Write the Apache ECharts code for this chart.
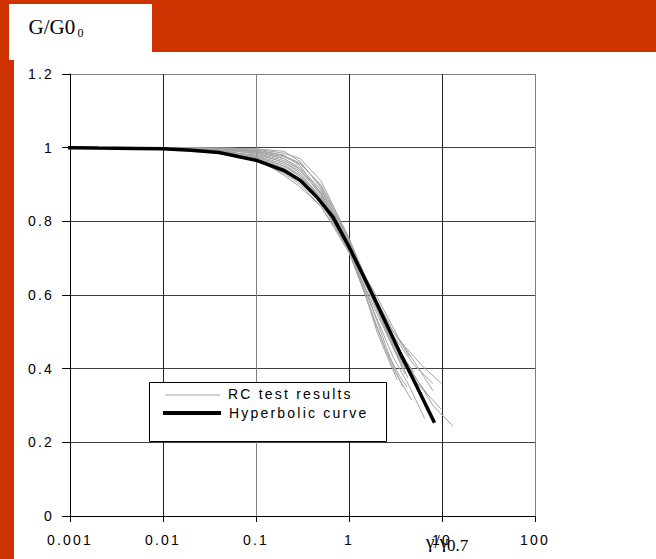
<!DOCTYPE html>
<html><head><meta charset="utf-8">
<script src="https://cdn.jsdelivr.net/npm/echarts@6/dist/echarts.min.js"></script>
<style>
html,body{margin:0;padding:0;background:#fff;}
#c{width:656px;height:559px;}
#c svg text{letter-spacing:2.2px;}
#c svg text[style*="Serif"]{letter-spacing:0;}
</style></head><body><div id="c"></div><script>
// ---- data ----
const xTickLabels = ['0.001', '0.01', '0.1', '1', '10', '100'];
const yTickLabels = ['0', '0.2', '0.4', '0.6', '0.8', '1', '1.2'];
const yTitle = 'G/G0';
const yTitleSub = '0';
const xTitle = 'γ/γ';
const xTitleSub = '0.7';
const legendNames = ['RC test results', 'Hyperbolic curve'];

const hyperX = [0.00072, 0.001, 0.002, 0.005, 0.01, 0.02, 0.04, 0.1, 0.2, 0.3, 0.45, 0.67, 1, 1.8, 2.7, 3.5, 5, 8.3];
const hyperY = [1.0, 1.0, 0.999, 0.998, 0.997, 0.993, 0.987, 0.966, 0.938, 0.911, 0.866, 0.812, 0.731, 0.6, 0.506, 0.445, 0.367, 0.253];

const rc01 = [[0.005,1],[0.01,1],[0.03,0.999],[0.1,0.997],[0.2,0.99],[0.3,0.962],[0.5,0.89],[0.7,0.815],[1,0.74],[1.5,0.645],[2,0.58],[3,0.5],[4,0.46],[6,0.41],[9.8,0.36]];
const rc02 = [[0.005,1],[0.01,1],[0.03,0.998],[0.1,0.994],[0.2,0.98],[0.3,0.95],[0.5,0.875],[0.7,0.805],[1,0.735],[1.5,0.64],[2,0.575],[3,0.48],[4.9,0.387],[8,0.3],[13,0.245]];
const rc03 = [[0.007,1],[0.02,0.999],[0.05,0.996],[0.1,0.99],[0.2,0.97],[0.3,0.94],[0.5,0.87],[0.7,0.8],[1,0.73],[1.5,0.63],[2,0.56],[3,0.465],[5,0.37],[9.8,0.29]];
const rc04 = [[0.005,1],[0.02,0.998],[0.05,0.993],[0.1,0.983],[0.2,0.96],[0.3,0.93],[0.5,0.865],[0.7,0.8],[1,0.725],[1.5,0.6],[2,0.51],[3,0.4],[4.7,0.315]];
const rc05 = [[0.005,1],[0.02,0.997],[0.05,0.99],[0.1,0.975],[0.2,0.95],[0.3,0.92],[0.5,0.86],[0.7,0.795],[1,0.725],[1.5,0.615],[2,0.535],[3,0.43],[4.5,0.35],[6.5,0.265]];
const rc06 = [[0.005,1],[0.02,0.996],[0.05,0.987],[0.1,0.97],[0.2,0.94],[0.3,0.91],[0.5,0.85],[0.7,0.79],[1,0.72],[1.5,0.62],[2,0.55],[3,0.455],[4.5,0.39]];
const rc07 = [[0.005,1],[0.02,0.995],[0.05,0.985],[0.1,0.968],[0.2,0.93],[0.3,0.9],[0.5,0.84],[0.7,0.78],[1,0.715],[1.5,0.6],[2,0.515],[2.5,0.45],[3.5,0.38],[4.2,0.35]];
const rc08 = [[0.01,1],[0.03,0.997],[0.1,0.985],[0.2,0.96],[0.3,0.935],[0.5,0.875],[0.7,0.81],[1,0.745],[1.5,0.65],[2,0.595],[3.5,0.478],[5,0.42],[8,0.34]];
const rc09 = [[0.01,0.999],[0.03,0.995],[0.1,0.978],[0.2,0.95],[0.3,0.925],[0.5,0.865],[0.7,0.805],[1,0.74],[1.5,0.645],[2,0.585],[3,0.5],[4.5,0.433]];
const rc10 = [[0.003,1],[0.01,0.997],[0.03,0.99],[0.1,0.972],[0.2,0.925],[0.3,0.893],[0.5,0.84],[0.7,0.785],[1,0.72],[1.5,0.61],[2,0.53],[2.5,0.46],[3.2,0.39],[3.8,0.35]];
const rc11 = [[0.005,1],[0.02,0.998],[0.1,0.99],[0.2,0.975],[0.3,0.955],[0.5,0.9],[0.7,0.83],[1,0.75],[1.5,0.645],[2,0.57],[3,0.47],[4,0.4]];
const rc12 = [[0.01,1],[0.05,0.999],[0.1,0.996],[0.2,0.985],[0.3,0.97],[0.5,0.91],[0.7,0.835],[1,0.755],[1.5,0.65],[2,0.58],[3,0.48],[5,0.38],[7,0.33]];
const rc13 = [[0.005,1],[0.02,0.997],[0.05,0.99],[0.1,0.973],[0.2,0.945],[0.3,0.915],[0.5,0.855],[0.7,0.795],[1,0.73],[1.5,0.63],[2,0.565],[3,0.47],[5,0.39]];
const rc14 = [[0.005,1],[0.02,0.999],[0.05,0.995],[0.1,0.985],[0.2,0.965],[0.3,0.94],[0.5,0.88],[0.7,0.815],[1,0.74],[1.5,0.635],[2,0.56],[3,0.455],[4,0.385]];
const rc15 = [[0.01,1],[0.05,0.996],[0.1,0.988],[0.2,0.97],[0.3,0.945],[0.5,0.885],[0.7,0.82],[1,0.745],[1.5,0.645],[2,0.575],[3,0.49],[5,0.41],[8,0.36]];
const rc16 = [[0.008,1],[0.03,0.998],[0.1,0.992],[0.2,0.978],[0.3,0.958],[0.5,0.895],[0.7,0.825],[1,0.75],[1.5,0.64],[2,0.565],[3,0.46],[4.3,0.375]];
const rc17 = [[0.006,1],[0.02,0.997],[0.1,0.98],[0.2,0.955],[0.3,0.925],[0.5,0.86],[0.7,0.79],[1,0.72],[1.5,0.6],[2,0.5],[2.6,0.43],[3.3,0.37]];
const rcCurves = [rc01, rc02, rc03, rc04, rc05, rc06, rc07, rc08, rc09, rc10, rc11, rc12, rc13, rc14, rc15, rc16, rc17];

// ---- chart ----
const chart = echarts.init(document.getElementById('c'), null, { renderer: 'svg' });
const RED = '#cc3300';
const SANS = 'Liberation Sans';
const SERIF = 'Liberation Serif';

const series = rcCurves.map(function (c) {
  return {
    name: legendNames[0], type: 'line', data: c, symbol: 'none', smooth: false,
    lineStyle: { color: '#a3a3a3', width: 1 }, z: 2, silent: true
  };
});
series.push({
  name: legendNames[1], type: 'line', symbol: 'none', clip: false,
  data: hyperX.map(function (x, i) { return [x, hyperY[i]]; }),
  lineStyle: { color: '#000', width: 3.5 }, z: 3
});

chart.setOption({
  animation: false,
  backgroundColor: '#fff',
  grid: { left: 70, top: 74, right: 121, bottom: 43, containLabel: false },
  xAxis: {
    type: 'log', logBase: 10, min: 0.001, max: 100,
    axisLine: { show: true, lineStyle: { color: '#000', width: 1 } },
    axisTick: { show: true, inside: false, length: 6, lineStyle: { color: '#000' } },
    minorTick: { show: false },
    axisLabel: {
      margin: 17, fontFamily: SANS, fontSize: 14, color: '#000',
      formatter: function (v) { return xTickLabels[Math.round(Math.log10(v)) + 3]; }
    },
    splitLine: { show: true, lineStyle: { color: ['#000', '#222', '#808080', '#222', '#222', '#808080'], width: 1 } }
  },
  yAxis: {
    type: 'value', min: 0, max: 1.2, interval: 0.2,
    axisLine: { show: true, lineStyle: { color: '#000', width: 1 } },
    axisTick: { show: true, inside: false, length: 8, lineStyle: { color: '#000' } },
    axisLabel: {
      margin: 16, fontFamily: SANS, fontSize: 14, color: '#000',
      formatter: function (v) { return yTickLabels[Math.round(v / 0.2)]; }
    },
    splitLine: { show: true, lineStyle: { color: ['#000', '#404040', '#404040', '#404040', '#404040', '#404040', '#808080'], width: 1 } }
  },
  series: series,
  graphic: [
    { type: 'rect', shape: { x: 0, y: 0, width: 656, height: 52 }, style: { fill: RED }, z: 10 },
    { type: 'rect', shape: { x: 0, y: 0, width: 9, height: 60 }, style: { fill: RED }, z: 10 },
    { type: 'rect', shape: { x: 0, y: 60, width: 14, height: 499 }, style: { fill: RED }, z: 10 },
    { type: 'rect', shape: { x: 9, y: 4, width: 143, height: 48 }, style: { fill: '#fff' }, z: 11 },
    { type: 'text', x: 28.5, y: 37, z: 12, style: { text: yTitle, fontFamily: SERIF, fontSize: 21, fill: '#000', textAlign: 'left', textVerticalAlign: 'bottom' } },
    { type: 'text', x: 77.5, y: 39, z: 12, style: { text: yTitleSub, fontFamily: SERIF, fontSize: 12, fill: '#000', textAlign: 'left', textVerticalAlign: 'bottom' } },
    { type: 'text', x: 426, y: 541, z: 12, style: { text: xTitle, fontFamily: SERIF, fontSize: 19, fill: '#000', textAlign: 'left', textVerticalAlign: 'middle' } },
    { type: 'text', x: 447, y: 545, z: 12, style: { text: xTitleSub, fontFamily: SERIF, fontSize: 17, fill: '#000', textAlign: 'left', textVerticalAlign: 'middle' } },
    { type: 'rect', shape: { x: 149.5, y: 382.5, width: 237, height: 59 }, style: { fill: '#fff', stroke: '#000', lineWidth: 1 }, z: 20 },
    { type: 'line', shape: { x1: 165, y1: 395, x2: 220, y2: 395 }, style: { stroke: '#a3a3a3', lineWidth: 1 }, z: 21 },
    { type: 'line', shape: { x1: 163, y1: 413, x2: 221, y2: 413 }, style: { stroke: '#000', lineWidth: 4 }, z: 21 },
    { type: 'text', x: 228, y: 394, z: 21, style: { text: legendNames[0], fontFamily: SANS, fontSize: 14, fill: '#000', textAlign: 'left', textVerticalAlign: 'middle' } },
    { type: 'text', x: 229, y: 413, z: 21, style: { text: legendNames[1], fontFamily: SANS, fontSize: 14, fill: '#000', textAlign: 'left', textVerticalAlign: 'middle' } }
  ]
});
</script></body></html>
